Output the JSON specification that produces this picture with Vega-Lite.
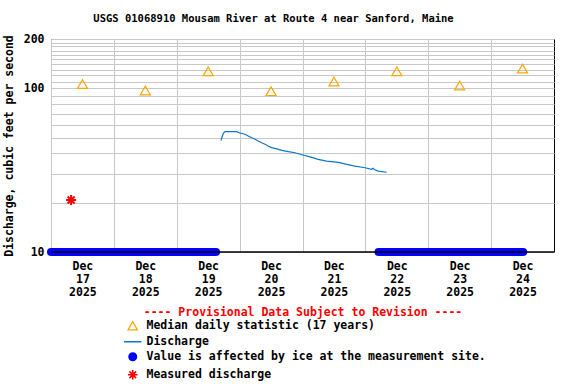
{
  "$schema": "https://vega.github.io/schema/vega-lite/v6.json",
  "width": 503,
  "height": 213,
  "autosize": {"type": "none"},
  "padding": {"left": 51, "top": 39, "right": 22, "bottom": 132},
  "config": {
    "font": "DejaVu Sans Mono",
    "view": {"stroke": "black", "strokeWidth": 1},
    "axis": {
      "labelFont": "DejaVu Sans Mono", "labelFontWeight": "bold", "labelFontSize": 11.5, "labelColor": "black",
      "titleFont": "DejaVu Sans Mono", "titleFontWeight": "bold", "titleFontSize": 11.5, "titleColor": "black",
      "gridColor": "#c8c8c8", "gridOpacity": 1, "gridWidth": 1, "domain": false, "ticks": false, "tickSize": 0
    }
  },
  "title": {
    "text": "USGS 01068910 Mousam River at Route 4 near Sanford, Maine",
    "font": "DejaVu Sans Mono", "fontSize": 10.5, "fontWeight": "bold", "color": "black",
    "dx": -29, "offset": 9
  },
  "datasets": {
    "ice": [
      {"start": "2025-12-17T00:00:00Z", "end": "2025-12-19T15:00:00Z", "value": 10},
      {"start": "2025-12-22T05:00:00Z", "end": "2025-12-24T12:15:00Z", "value": 10}
    ],
    "median": [
      {"date": "2025-12-17T12:00:00Z", "value": 106},
      {"date": "2025-12-18T12:00:00Z", "value": 97},
      {"date": "2025-12-19T12:00:00Z", "value": 127},
      {"date": "2025-12-20T12:00:00Z", "value": 96},
      {"date": "2025-12-21T12:00:00Z", "value": 110},
      {"date": "2025-12-22T12:00:00Z", "value": 127},
      {"date": "2025-12-23T12:00:00Z", "value": 104},
      {"date": "2025-12-24T12:00:00Z", "value": 132}
    ],
    "discharge": [
      {"date": "2025-12-19T16:54:00Z", "value": 48.0},
      {"date": "2025-12-19T17:18:00Z", "value": 50.6},
      {"date": "2025-12-19T17:48:00Z", "value": 53.1},
      {"date": "2025-12-19T18:24:00Z", "value": 54.3},
      {"date": "2025-12-19T22:54:00Z", "value": 54.3},
      {"date": "2025-12-20T00:06:00Z", "value": 53.3},
      {"date": "2025-12-20T02:00:00Z", "value": 52.4},
      {"date": "2025-12-20T03:18:00Z", "value": 51.1},
      {"date": "2025-12-20T04:36:00Z", "value": 49.9},
      {"date": "2025-12-20T05:54:00Z", "value": 48.8},
      {"date": "2025-12-20T07:06:00Z", "value": 47.6},
      {"date": "2025-12-20T08:24:00Z", "value": 46.5},
      {"date": "2025-12-20T09:42:00Z", "value": 45.5},
      {"date": "2025-12-20T10:54:00Z", "value": 44.4},
      {"date": "2025-12-20T12:12:00Z", "value": 43.4},
      {"date": "2025-12-20T14:12:00Z", "value": 42.6},
      {"date": "2025-12-20T16:06:00Z", "value": 41.8},
      {"date": "2025-12-20T18:36:00Z", "value": 41.0},
      {"date": "2025-12-20T21:06:00Z", "value": 40.4},
      {"date": "2025-12-20T23:24:00Z", "value": 39.4},
      {"date": "2025-12-21T02:54:00Z", "value": 38.1},
      {"date": "2025-12-21T06:00:00Z", "value": 36.8},
      {"date": "2025-12-21T09:12:00Z", "value": 35.9},
      {"date": "2025-12-21T13:42:00Z", "value": 35.3},
      {"date": "2025-12-21T16:54:00Z", "value": 34.3},
      {"date": "2025-12-21T20:00:00Z", "value": 33.5},
      {"date": "2025-12-21T23:54:00Z", "value": 32.7},
      {"date": "2025-12-22T02:24:00Z", "value": 32.0},
      {"date": "2025-12-22T02:54:00Z", "value": 32.5},
      {"date": "2025-12-22T03:24:00Z", "value": 31.9},
      {"date": "2025-12-22T04:54:00Z", "value": 31.2},
      {"date": "2025-12-22T08:06:00Z", "value": 30.7}
    ],
    "measured": [
      {"date": "2025-12-17T07:40:00Z", "value": 20.8}
    ]
  },
  "layer": [
    {
      "data": {"name": "discharge"},
      "mark": {"type": "line", "strokeWidth": 1.2},
      "encoding": {
        "x": {
          "field": "date", "type": "temporal",
          "scale": {"type": "utc", "domain": [{"year": 2025, "month": 12, "date": 17, "utc": true}, {"year": 2025, "month": 12, "date": 25, "utc": true}]},
          "axis": {
            "title": "---- Provisional Data Subject to Revision ----",
            "titleColor": "#ff0000", "titlePadding": 9,
            "grid": true, "labelOffset": 31.4, "labelOverlap": false, "labelFlush": false, "labelBound": false,
            "labelPadding": 8, "labelLineHeight": 13,
            "values": [
              {"year": 2025, "month": 12, "date": 17, "utc": true},
              {"year": 2025, "month": 12, "date": 18, "utc": true},
              {"year": 2025, "month": 12, "date": 19, "utc": true},
              {"year": 2025, "month": 12, "date": 20, "utc": true},
              {"year": 2025, "month": 12, "date": 21, "utc": true},
              {"year": 2025, "month": 12, "date": 22, "utc": true},
              {"year": 2025, "month": 12, "date": 23, "utc": true},
              {"year": 2025, "month": 12, "date": 24, "utc": true}
            ],
            "labelExpr": "[utcFormat(datum.value, '%b'), utcFormat(datum.value, '%d'), utcFormat(datum.value, '%Y')]"
          }
        },
        "y": {
          "field": "value", "type": "quantitative",
          "scale": {"type": "log", "domain": [10, 200], "nice": false},
          "axis": {
            "title": "Discharge, cubic feet per second",
            "grid": true, "labelPadding": 7, "titlePadding": 9, "labelOverlap": false, "labelFlush": false, "labelBound": false,
            "values": [10, 20, 30, 40, 50, 60, 70, 80, 90, 100, 110, 120, 130, 140, 150, 160, 170, 180, 190, 200],
            "labelExpr": "datum.value == 10 || datum.value == 100 || datum.value == 200 ? format(datum.value, 'd') : ''"
          }
        },
        "color": {
          "datum": "Discharge", "type": "nominal",
          "scale": {
            "domain": ["Median daily statistic (17 years)", "Discharge", "Value is affected by ice at the measurement site.", "Measured discharge"],
            "range": ["#ffa500", "#0a78c8", "#0000ff", "#ff0000"]
          },
          "legend": {
            "orient": "none", "legendX": 76, "legendY": 281, "title": null,
            "labelFont": "DejaVu Sans Mono", "labelFontWeight": "bold", "labelFontSize": 11.5, "labelColor": "black",
            "labelLimit": 600, "rowPadding": 2, "labelOffset": 8,
            "encode": {
              "symbols": {
                "update": {
                  "shape": {"signal": "datum.value === 'Discharge' ? 'stroke' : datum.value === 'Measured discharge' ? 'M-1,0H1M0,-1V1M-0.7,-0.7L0.7,0.7M-0.7,0.7L0.7,-0.7' : datum.value === 'Median daily statistic (17 years)' ? 'triangle-up' : 'circle'"},
                  "fill": {"signal": "datum.value === 'Value is affected by ice at the measurement site.' ? '#0000ff' : 'transparent'"},
                  "stroke": {"signal": "datum.value === 'Median daily statistic (17 years)' ? '#ffa500' : datum.value === 'Discharge' ? '#0a78c8' : datum.value === 'Measured discharge' ? '#ff0000' : '#0000ff'"},
                  "size": {"signal": "datum.value === 'Discharge' ? 300 : datum.value === 'Value is affected by ice at the measurement site.' ? 60 : 90"},
                  "strokeWidth": {"signal": "datum.value === 'Discharge' ? 1.5 : datum.value === 'Measured discharge' ? 1.6 : 1.2"},
                  "opacity": {"value": 1}
                }
              }
            }
          }
        }
      }
    },
    {
      "data": {"name": "median"},
      "mark": {"type": "point", "shape": "triangle-up", "filled": false, "size": 100, "strokeWidth": 1.2, "opacity": 1},
      "encoding": {
        "x": {"field": "date", "type": "temporal"},
        "y": {"field": "value", "type": "quantitative"},
        "color": {"datum": "Median daily statistic (17 years)", "type": "nominal"}
      }
    },
    {
      "data": {"name": "measured"},
      "mark": {"type": "point", "shape": "M-1,0H1M0,-1V1M-0.7,-0.7L0.7,0.7M-0.7,0.7L0.7,-0.7", "filled": false, "size": 100, "strokeWidth": 2, "opacity": 1},
      "encoding": {
        "x": {"field": "date", "type": "temporal"},
        "y": {"field": "value", "type": "quantitative"},
        "color": {"datum": "Measured discharge", "type": "nominal"}
      }
    },
    {
      "data": {"name": "ice"},
      "mark": {"type": "rule", "strokeWidth": 8, "strokeCap": "round"},
      "encoding": {
        "x": {"field": "start", "type": "temporal"},
        "x2": {"field": "end"},
        "y": {"field": "value", "type": "quantitative"},
        "color": {"datum": "Value is affected by ice at the measurement site.", "type": "nominal"}
      }
    },
    {
      "data": {"name": "ice"},
      "mark": {"type": "rule", "color": "black", "strokeWidth": 1},
      "encoding": {
        "y": {"datum": 10, "type": "quantitative"}
      }
    }
  ]
}
